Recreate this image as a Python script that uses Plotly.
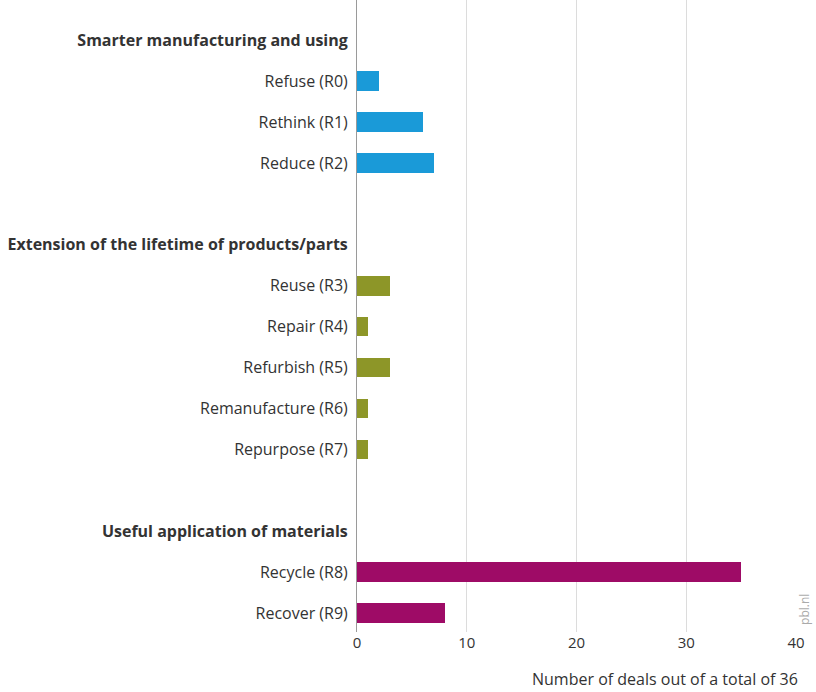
import plotly.graph_objects as go

# Data
groups = ["Smarter manufacturing and using",
          "Extension of the lifetime of products/parts",
          "Useful application of materials"]
categories = [
    ["Refuse (R0)", "Rethink (R1)", "Reduce (R2)"],
    ["Reuse (R3)", "Repair (R4)", "Refurbish (R5)", "Remanufacture (R6)", "Repurpose (R7)"],
    ["Recycle (R8)", "Recover (R9)"],
]
values = [
    [2, 6, 7],
    [3, 1, 3, 1, 1],
    [35, 8],
]
colors = ["#1a9ad8", "#8d9628", "#9e0b66"]
x_ticks = [0, 10, 20, 30, 40]

fig = go.Figure()
tickvals, ticktext = [], []
pos = 0
for gi, g in enumerate(groups):
    tickvals.append(pos)
    ticktext.append("<b><span style='font-size:16px'>" + g + "</span></b>")
    pos += 1
    ys = []
    for c in categories[gi]:
        tickvals.append(pos)
        ticktext.append(c)
        ys.append(pos)
        pos += 1
    fig.add_trace(go.Bar(x=values[gi], y=ys, orientation="h",
                         marker=dict(color=colors[gi], line=dict(width=0)),
                         width=0.48, showlegend=False))
    pos += 1  # blank spacer row

n_last = pos - 2

fig.update_layout(
    width=816, height=692,
    margin=dict(l=357, r=20, t=0, b=60),
    plot_bgcolor="white", paper_bgcolor="white",
    font=dict(family="Open Sans", size=16, color="#333333"),
    bargap=0,
)
fig.update_xaxes(range=[0, 40], tickvals=x_ticks, showgrid=True,
                 gridcolor="#dcdcdc", gridwidth=1, zeroline=False,
                 showline=False, ticks="", tickfont=dict(size=15, color="#333333"))
fig.update_yaxes(range=[n_last + 0.46, -0.98], tickvals=tickvals, ticktext=ticktext,
                 showgrid=False, zeroline=False, showline=True, linecolor="#9a9a9a",
                 linewidth=1, ticks="outside", ticklen=5, tickcolor="rgba(0,0,0,0)",
                 tickfont=dict(size=16, color="#333333"))

fig.add_annotation(text="Number of deals out of a total of 36", xref="paper", yref="paper",
                   x=1.01, y=0, yshift=-47, xanchor="right", yanchor="middle",
                   showarrow=False, font=dict(size=16, color="#333333"))
fig.add_annotation(text="pbl.nl", xref="paper", yref="paper", x=1.0, xshift=9,
                   y=0.035, textangle=-90, xanchor="center", yanchor="middle",
                   showarrow=False, font=dict(size=12, color="#aaaaaa"))

fig.write_html("out.html", config={"displayModeBar": False},
               post_script="document.body.style.margin='0';document.body.style.overflow='hidden';")
